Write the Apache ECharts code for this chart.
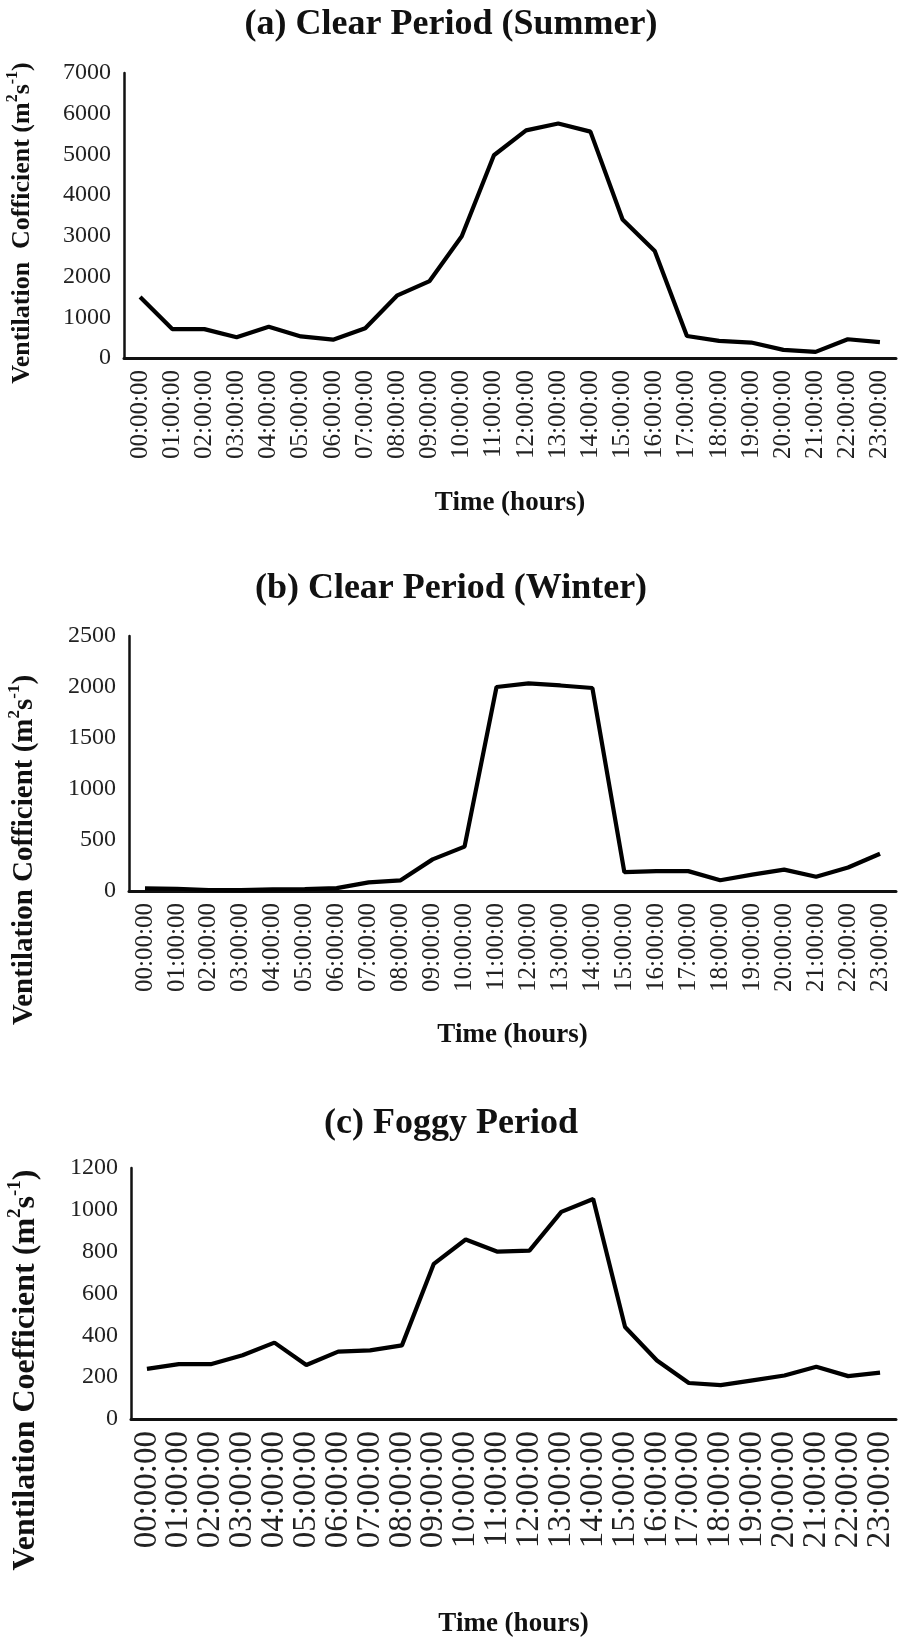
<!DOCTYPE html>
<html>
<head>
<meta charset="utf-8">
<script src="https://cdn.jsdelivr.net/npm/echarts@6/dist/echarts.min.js"></script>
<style>
html,body{margin:0;padding:0;background:#fff;}
#c{width:902px;height:1639px;}
</style>
</head>
<body>
<div id="c"></div>
<script>
const hours = ['00:00:00','01:00:00','02:00:00','03:00:00','04:00:00','05:00:00','06:00:00','07:00:00','08:00:00','09:00:00','10:00:00','11:00:00','12:00:00','13:00:00','14:00:00','15:00:00','16:00:00','17:00:00','18:00:00','19:00:00','20:00:00','21:00:00','22:00:00','23:00:00'];
const summerValues = [1500, 710, 710, 510, 770, 530, 450, 730, 1540, 1890, 2990, 4980, 5590, 5760, 5560, 3400, 2630, 540, 420, 380, 200, 150, 460, 390];
const winterValues = [25, 22, 10, 8, 15, 18, 28, 85, 105, 310, 435, 2000, 2035, 2015, 1990, 185, 195, 195, 105, 160, 210, 140, 230, 365];
const foggyValues = [240, 262, 262, 305, 365, 258, 322, 328, 352, 742, 858, 800, 805, 990, 1052, 440, 280, 172, 162, 185, 208, 250, 205, 222];
const titles = ['(a) Clear Period (Summer)', '(b) Clear Period (Winter)', '(c) Foggy Period'];
const yNames = ['Ventilation  Cofficient (m', 'Ventilation Cofficient (m', 'Ventilation Coefficient (m'];
const xName = 'Time (hours)';
const yMax = [7000, 2500, 1200];
const yStep = [1000, 500, 200];

const SERIF = '"Liberation Serif","Times New Roman",serif';
const grids = [
  {left:124, top:73, width:772, height:285},
  {left:129, top:636, width:767, height:255},
  {left:131, top:1168, width:765, height:251}
];
const titleY = [26, 590, 1125];
const xNameGap = [132, 131, 192];
const xLabelSize = [25, 25, 33];
const yNameFont = [26, 29, 32];
const yNamePos = [[20, 223], [23, 850], [24, 1370]];

const chart = echarts.init(document.getElementById('c'), null, {renderer:'canvas'});
const option = {
  backgroundColor:'#fff',
  animation:false,
  title: titles.map((t,i)=>({
    text:t, left:'center', top:titleY[i]-19, padding:0,
    textStyle:{fontFamily:SERIF, fontWeight:'bold', fontSize:36, color:'#111'}
  })),
  grid: grids.map(g=>Object.assign({containLabel:false}, g)),
  xAxis: [0,1,2].map(i=>({
    type:'category', gridIndex:i, data:hours, boundaryGap:true,
    name:xName, nameLocation:'middle', nameGap:xNameGap[i],
    nameTextStyle:{fontFamily:SERIF, fontWeight:'bold', fontSize:27, color:'#111'},
    axisLine:{show:true, lineStyle:{color:'#111', width:3}},
    axisTick:{show:false},
    axisLabel:{interval:0, rotate:90, margin:12, fontFamily:SERIF, fontSize:xLabelSize[i], color:'#222'},
    splitLine:{show:false}
  })),
  yAxis: [0,1,2].map(i=>({
    type:'value', gridIndex:i, min:0, max:yMax[i], interval:yStep[i],
    axisLine:{show:true, lineStyle:{color:'#111', width:2.5}},
    axisTick:{show:false},
    axisLabel:{margin:13, fontFamily:SERIF, fontSize:24, color:'#222', formatter:v=>String(v)},
    splitLine:{show:false}
  })),
  series: [summerValues, winterValues, foggyValues].map((d,i)=>({
    type:'line', xAxisIndex:i, yAxisIndex:i, data:d, showSymbol:false,
    lineStyle:{color:'#000', width:4.2}, z:3
  })),
  graphic: yNames.map((n,i)=>({
    type:'text', x:yNamePos[i][0], y:yNamePos[i][1], rotation:Math.PI/2,
    style:{
      text:'{a|'+n+'}{s|2}{a|s}{s|-1}{a|)}',
      textAlign:'center', textVerticalAlign:'middle',
      rich:{
        a:{fontFamily:SERIF, fontWeight:'bold', fontSize:yNameFont[i], fill:'#111', lineHeight:yNameFont[i]+4, verticalAlign:'bottom'},
        s:{fontFamily:SERIF, fontWeight:'bold', fontSize:Math.round(yNameFont[i]*0.6), fill:'#111', lineHeight:yNameFont[i]+4, verticalAlign:'top'}
      }
    }
  }))
};
chart.setOption(option);
</script>
</body>
</html>
